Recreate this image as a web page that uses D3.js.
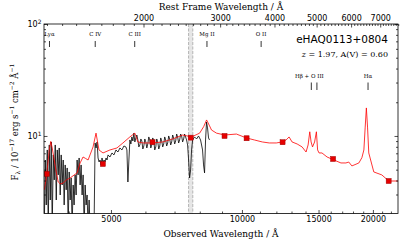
<!DOCTYPE html>
<html>
<head>
<meta charset="utf-8">
<script src="https://cdn.jsdelivr.net/npm/d3@7"></script>
<style>
body { margin: 0; background: #fff; }
text { font-family: "DejaVu Sans", sans-serif; }
.serif { font-family: "DejaVu Serif", serif; }
</style>
</head>
<body>
<div id="chart"></div>
<script>
// Quasar eHAQ0113+0804, redshift and extinction
const zQso = 1.97;

// Observed spectrum (black), wavelength in Angstrom, flux in 1e-17 erg/s/cm2/A
const specWave = [3513, 3532, 3550, 3569, 3588, 3607, 3626, 3645, 3664, 3684, 3703, 3723, 3743, 3763, 3782, 3802,
  3822, 3842, 3862, 3883, 3903, 3924, 3945, 3966, 3987, 4008, 4029, 4050, 4071, 4093, 4114, 4136, 4158, 4180,
  4202, 4225, 4247, 4269, 4292, 4315, 4338, 4361, 4384, 4407, 4430, 4454, 4477, 4525, 4572, 4597, 4621, 4646,
  4670, 4695, 4719, 4744, 4769, 4795, 4820, 4846, 4871, 4897, 4923, 4974, 5027, 5080, 5134, 5188, 5243, 5299,
  5355, 5411, 5440, 5469, 5498,
  5527, 5556, 5585, 5615, 5645, 5674, 5704, 5734, 5765, 5795, 5826, 5857, 5888, 5919, 5950, 5981, 6013, 6045,
  6076, 6108, 6141, 6173, 6206, 6238, 6271, 6304, 6338, 6371, 6405, 6439, 6473, 6507, 6541, 6575, 6610, 6645,
  6680, 6715, 6751, 6787, 6823, 6859, 6895, 6931, 6968, 7005, 7042, 7079, 7116, 7154, 7192, 7230, 7268, 7306,
  7345, 7383, 7422, 7461, 7501, 7541,
  7581, 7621, 7661, 7702, 7783, 7866, 7949, 8034, 8119, 8162, 8205, 8249, 8292, 8336, 8380, 8424];
const specFlux = [1.5, 6.10, 2.42, 7.50, 1.5, 8.31, 2.68, 8.84, 1.5, 6.77, 4.05, 8.31, 2.68, 7.50, 4.49, 7.81,
  2.97, 6.77, 3.65, 6.10, 2.42, 5.51, 3.30, 5.18, 1.5, 4.77, 2.68, 4.22, 1.5, 3.65, 2.42, 4.49, 2.97, 6.10,
  4.49, 6.36, 3.65, 5.51, 2.97, 4.49, 1.5, 3.65, 2.42, 2.97, 1.5, 2.68, 1.5, 1.5, 1.5, 8.66, 7.81, 8.84,
  6.36, 5.86, 6.10, 5.51, 6.36, 5.74, 6.10, 5.86, 6.36, 6.10, 6.77, 6.49, 7.05, 6.77, 7.50, 7.19, 7.81, 7.50,
  8.14, 7.98, 7.50, 3.88, 6.10,
  9.21, 8.48, 9.80, 9.02, 10.6, 8.84, 9.60, 10.2, 9.21, 7.98, 8.31, 9.40, 9.02, 7.65, 8.14, 9.40, 8.84, 7.81,
  8.48, 9.80, 9.21, 7.81, 8.31, 9.60, 9.02, 7.50, 7.98, 9.40, 8.84, 7.65, 8.14, 9.60, 9.02, 7.98, 8.48, 9.80,
  9.21, 8.14, 8.66, 10.0, 9.40, 8.31, 8.84, 10.2, 9.60, 8.48, 9.02, 10.4, 9.80, 8.66, 9.21, 10.4, 10.0, 8.84,
  9.40, 10.4, 9.80, 9.21, 8.31, 6.10,
  4.22, 4.97, 7.50, 9.21, 9.80, 9.40, 10.0, 9.21, 7.50, 5.51, 4.68, 9.21, 13.3, 11.8, 9.60, 9.21];

// Model template (red)
const modelWave = [3513, 3550, 3578, 3607, 3636, 3664, 3703, 3743, 3782, 3822, 3883, 3950, 4029, 4180, 4247, 4313,
  4370, 4430, 4548, 4620, 4693, 4794, 4974, 5160, 5327, 5526, 5674, 5765, 5920, 6240, 6575, 6930, 7309, 7661,
  7995, 8166, 8294, 8426, 8513, 8740, 9119, 9714, 10239, 10679, 11139, 11555, 11994, 12373, 12634, 12835, 13039,
  13393, 13750, 14042, 14193, 14320, 14420, 14529, 14690, 14830, 14925, 15040, 15275, 15692, 16273, 16888, 17337,
  17600, 17896, 18570, 18869, 19067, 19200, 19320, 19440, 19568, 20095, 20965, 21751, 22841];
const modelFlux = [3.30, 4.22, 5.51, 7.50, 8.93, 7.81, 6.10, 4.77, 3.88, 3.73, 3.80, 4.05, 4.22, 4.68, 5.74, 6.49,
  6.30, 6.10, 7.98, 10.6, 7.50, 7.05, 7.50, 7.81, 8.66, 9.80, 10.6, 8.84, 8.66, 8.66, 8.84, 9.40, 10.2, 9.80,
  10.6, 12.1, 13.9, 12.3, 11.3, 10.6, 10.2, 10.4, 9.60, 9.21, 8.84, 8.66, 8.66, 8.84, 9.21, 9.80, 8.84,
  8.48, 7.98, 7.19, 8.31, 10.9, 8.84, 7.98, 8.84, 10.9, 7.50, 7.05, 7.05, 6.49, 6.10, 5.74, 5.74,
  5.85, 5.40, 5.74, 6.40, 7.50, 12.0, 17.8, 12.0, 7.05, 4.77, 4.49, 3.96, 3.96];

// Broad-band photometry (red squares)
const photWave = [3560, 4790, 6230, 7625, 9120, 10250, 12400, 16200, 21740];
const photFlux = [4.58, 5.62, 8.79, 9.66, 10.0, 9.54, 8.79, 6.23, 3.96];

// Emission lines (rest frame) and label rows
const lineNames = ["Lyα", "C IV", "C III", "Mg II", "O II", "", "", "Hα"];
const lineRest = [1216, 1549, 1909, 2798, 3727, 4861, 5007, 6563];
const lineRow = [0, 0, 0, 0, 0, 1, 1, 1];

// Telluric A-band shading
const bandWave = [7540, 7710];

// Axis ticks
const obsMajor = [5000, 10000, 15000, 20000];
const restMajor = [2000, 3000, 4000, 5000, 6000, 7000];
const fluxMajor = [10, 100];
const fluxMinor = [3, 4, 5, 6, 7, 8, 9, 20, 30, 40, 50, 60, 70, 80, 90];

const margin = {top: 24, right: 9, bottom: 28.5, left: 44},
  width = 407 - margin.left - margin.right,
  height = 242 - margin.top - margin.bottom;

const svg = d3.select("#chart").append("svg")
  .attr("width", 407).attr("height", 242);
const g = svg.append("g")
  .attr("transform", "translate(" + margin.left + "," + margin.top + ")");

const x = d3.scaleLog().domain([3508, 22841]).range([0, width]);
const xRest = d3.scaleLog().domain([3508 / (1 + zQso), 22841 / (1 + zQso)]).range([0, width]);
const y = d3.scaleLog().domain([2.03, 100]).range([height, 0]);

svg.append("defs").append("clipPath").attr("id", "clip")
  .append("rect").attr("width", width).attr("height", height);

// shaded band
const band = g.append("g");
band.append("rect")
  .attr("x", x(bandWave[0])).attr("y", 0)
  .attr("width", x(bandWave[1]) - x(bandWave[0])).attr("height", height)
  .attr("fill", "#e6e6e6");
band.selectAll("line").data(bandWave).join("line")
  .attr("x1", d => x(d)).attr("x2", d => x(d))
  .attr("y1", 0).attr("y2", height)
  .attr("stroke", "#b4b4b4").attr("stroke-width", 1)
  .attr("stroke-dasharray", "3,1.5");

const line = d3.line().x(d => x(d[0])).y(d => y(d[1]));
const plot = g.append("g").attr("clip-path", "url(#clip)");

plot.append("path")
  .datum(d3.zip(specWave, specFlux))
  .attr("d", line)
  .attr("fill", "none").attr("stroke", "#000").attr("stroke-width", 0.8);

plot.append("path")
  .datum(d3.zip(modelWave, modelFlux))
  .attr("d", line)
  .attr("fill", "none").attr("stroke", "#ff0000").attr("stroke-width", 0.8);

plot.selectAll("rect.phot")
  .data(d3.zip(photWave, photFlux))
  .join("rect").attr("class", "phot")
  .attr("x", d => x(d[0]) - 2.5).attr("y", d => y(d[1]) - 2.5)
  .attr("width", 5).attr("height", 5)
  .attr("fill", "#e60000").attr("stroke", "#a00000").attr("stroke-width", 0.5);

// emission line markers
const rowLabelY = [12, 54], rowTick = [[17, 23], [58.5, 66]];
const marks = g.append("g");
marks.selectAll("line")
  .data(lineRest)
  .join("line")
  .attr("x1", d => x(d * (1 + zQso))).attr("x2", d => x(d * (1 + zQso)))
  .attr("y1", (d, i) => rowTick[lineRow[i]][0]).attr("y2", (d, i) => rowTick[lineRow[i]][1])
  .attr("stroke", "#000").attr("stroke-width", 0.8);
marks.selectAll("text")
  .data(lineRest)
  .join("text")
  .attr("class", "serif")
  .attr("x", d => x(d * (1 + zQso))).attr("y", (d, i) => rowLabelY[lineRow[i]])
  .attr("text-anchor", "middle").attr("font-size", "5.5px")
  .text((d, i) => lineNames[i]);
marks.append("text")
  .attr("class", "serif")
  .attr("x", x(lineRest[5] * (1 + zQso)) - 2).attr("y", rowLabelY[1])
  .attr("text-anchor", "middle").attr("font-size", "5.5px")
  .text("Hβ + O III");

// axes
function tidy(sel) {
  sel.select(".domain").remove();
  sel.selectAll(".tick line").attr("stroke-width", 0.7);
  sel.selectAll(".tick text").attr("font-family", "DejaVu Sans").attr("font-size", "8px").attr("fill", "#000");
}
g.append("g").attr("transform", "translate(0," + height + ")")
  .call(d3.axisBottom(x).tickValues(obsMajor).tickSizeInner(-3.5).tickSizeOuter(0)
    .tickPadding(3).tickFormat(d3.format("d")))
  .call(tidy);
g.append("g").attr("transform", "translate(0," + height + ")")
  .call(d3.axisBottom(x).tickValues(d3.range(4000, 23000, 1000).filter(d => !obsMajor.includes(d)))
    .tickSizeInner(-2).tickSizeOuter(0).tickFormat(""))
  .call(tidy);
g.append("g")
  .call(d3.axisTop(xRest).tickValues(restMajor).tickSizeInner(-3.5).tickSizeOuter(0)
    .tickPadding(3).tickFormat(d3.format("d")))
  .call(tidy);
g.append("g")
  .call(d3.axisTop(xRest).tickValues(d3.range(1200, 7800, 100).filter(d => d % 1000 !== 0))
    .tickSizeInner(-2).tickSizeOuter(0).tickFormat(""))
  .call(tidy);
g.append("g")
  .call(d3.axisLeft(y).tickValues(fluxMajor).tickSizeInner(-3.5).tickSizeOuter(0).tickPadding(2.5))
  .call(tidy)
  .call(s => s.selectAll(".tick text").each(function(d) {
    const t = d3.select(this).text("");
    t.append("tspan").text("10");
    t.append("tspan").attr("dy", "-0.45em").attr("font-size", "6px").text(Math.round(Math.log10(d)));
  }));
g.append("g")
  .call(d3.axisLeft(y).tickValues(fluxMinor).tickSizeInner(-2).tickSizeOuter(0).tickFormat(""))
  .call(tidy);
g.append("g").attr("transform", "translate(" + width + ",0)")
  .call(d3.axisRight(y).tickValues(fluxMajor).tickSizeInner(-3.5).tickSizeOuter(0).tickFormat(""))
  .call(tidy);
g.append("g").attr("transform", "translate(" + width + ",0)")
  .call(d3.axisRight(y).tickValues(fluxMinor).tickSizeInner(-2).tickSizeOuter(0).tickFormat(""))
  .call(tidy);

g.append("rect")
  .attr("width", width).attr("height", height)
  .attr("fill", "none").attr("stroke", "#000").attr("stroke-width", 0.8);

// titles
g.append("text").attr("class", "serif")
  .attr("x", width / 2).attr("y", -14).attr("text-anchor", "middle").attr("font-size", "9px")
  .text("Rest Frame Wavelength / Å");
g.append("text").attr("class", "serif")
  .attr("x", width / 2).attr("y", height + 23.5).attr("text-anchor", "middle").attr("font-size", "9px")
  .text("Observed Wavelength / Å");

const ylab = svg.append("text").attr("class", "serif")
  .attr("transform", "translate(17.5,122) rotate(-90)")
  .attr("text-anchor", "middle").attr("font-size", "8.5px");
const yParts = [["F", 0, 8.5], ["λ", 2, 6], [" / 10", 0, 8.5], ["−17", -4, 6], [" erg s", 0, 8.5],
  ["−1", -4, 6], [" cm", 0, 8.5], ["−2", -4, 6], [" Å", 0, 8.5], ["−1", -4, 6]];
let prevShift = 0;
yParts.forEach(p => {
  ylab.append("tspan").attr("dy", p[1] - prevShift).attr("font-size", p[2] + "px").text(p[0]);
  prevShift = p[1];
});

g.append("text")
  .attr("x", width - 10).attr("y", 19).attr("text-anchor", "end").attr("font-size", "10.5px")
  .text("eHAQ0113+0804");
const ztxt = g.append("text").attr("class", "serif")
  .attr("x", width - 10).attr("y", 32.5).attr("text-anchor", "end").attr("font-size", "8px");
ztxt.append("tspan").attr("font-style", "italic").text("z");
ztxt.append("tspan").text(" = 1.97, A(V) = 0.60");
</script>
</body>
</html>
